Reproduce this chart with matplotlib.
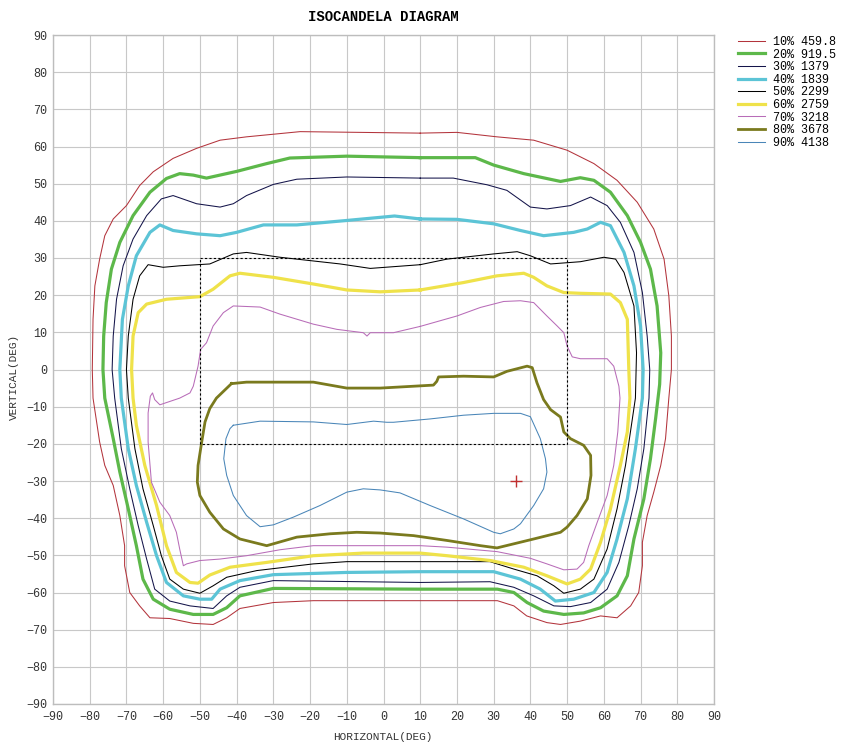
import numpy as np
import matplotlib.pyplot as plt

# isocandela levels (label, colour, width)
labels = ["10% 459.8", "20% 919.5", "30% 1379", "40% 1839", "50% 2299",
          "60% 2759", "70% 3218", "80% 3678", "90% 4138"]
colors = ["#b3343c", "#5db84a", "#14144a", "#5cc4d6", "#000000",
          "#efe24a", "#b86cb8", "#7a7a1e", "#4a86b8"]
widths = [0.75, 2.3, 0.75, 2.3, 0.75, 2.3, 0.75, 2.0, 0.75]

# contour traces (horizontal deg, vertical deg)
iso10 = [(10, 63.6), (-22.7, 64), (-37.3, 62.6), (-44.5, 61.7), (-50.9, 59.5), (-57.3, 56.8),
         (-62.7, 53.2), (-66.4, 49.5), (-70, 44.1), (-73.6, 40.5), (-75.9, 36), (-77.3, 29.7),
         (-78.6, 22.5), (-79.1, 13.5), (-79.3, 0), (-79.1, -7.7), (-77.3, -19.5), (-75.9, -25.8),
         (-73.6, -31.2), (-71.8, -39.3), (-70.5, -47.4), (-70.5, -52.8), (-69.1, -60), (-66.4, -63.6),
         (-63.6, -66.8), (-58.2, -67), (-51.8, -68.3), (-46.4, -68.6), (-42.7, -66.8), (-39.1, -64.3),
         (-30, -62.7), (-19.1, -62.2), (31, -62.2), (35.5, -63.6), (39, -66.3), (44.5, -68.1),
         (48.2, -68.6), (53.6, -67.7), (59.1, -66.3), (63.6, -66.8), (67.3, -63.6), (69.5, -60),
         (70.5, -52.8), (70.5, -46.5), (71.8, -39.3), (73.6, -33), (75.5, -25.8), (76.8, -18.6),
         (77.7, -7.7), (78.4, 0), (78.4, 9), (77.7, 19.8), (76.4, 29.7), (73.6, 37.8), (69.1, 45),
         (63.6, 50.9), (57.3, 55.4), (50, 59), (40.9, 61.7), (30.9, 62.6), (20, 63.8), (10, 63.6)]
iso20 = [(10, 57), (-10, 57.4), (-25.5, 56.9), (-31.8, 55.4), (-40, 53.3), (-48.2, 51.5),
         (-51.8, 52.3), (-55.5, 52.7), (-59.1, 51.4), (-63.6, 47.7), (-68.2, 41.4), (-71.8, 34.2),
         (-74.1, 27), (-75.5, 18), (-76.2, 9), (-76.4, 0), (-75.9, -7.7), (-73.6, -18.6),
         (-71.8, -27.6), (-69.5, -37.5), (-67.3, -47.4), (-65.5, -56.4), (-62.7, -61.8),
         (-58.2, -64.5), (-51.8, -65.9), (-46.4, -65.9), (-42.7, -64.1), (-39.1, -60.9),
         (-30, -58.9), (10, -59.1), (31, -59.1), (35.5, -60), (39.1, -62.7), (43.6, -65),
         (49.1, -65.9), (54.5, -65.5), (59.1, -64.1), (63.6, -60.9), (66.4, -55.5), (68.2, -45.6),
         (70.9, -34.8), (72.7, -24), (74.1, -13.2), (75.2, -4), (75.5, 4.5), (74.5, 17.1),
         (72.7, 27), (70, 34.2), (66.4, 41.4), (61.8, 47.7), (57.3, 50.9), (53.6, 51.6),
         (48.2, 50.6), (38.2, 52.7), (30, 55), (25, 57), (10, 57)]
iso30 = [(10, 51.5), (-10, 51.8), (-23.6, 51.2), (-30, 49.8), (-37.3, 46.8), (-40.9, 44.6),
         (-44.5, 43.7), (-50.9, 44.6), (-57.3, 46.8), (-60.5, 45.9), (-64.5, 41.4), (-68.2, 35.1),
         (-70.9, 27.9), (-72.7, 18.9), (-73.6, 9), (-73.9, 0), (-73.2, -7.7), (-71.4, -21.3),
         (-69.1, -32.1), (-66.8, -42), (-64.5, -51), (-62.3, -59.1), (-58.2, -62.3), (-52.7, -63.6),
         (-46.4, -64.3), (-42.7, -60.9), (-39.1, -58.6), (-30, -56.8), (10, -57.3), (29, -57.1),
         (35.5, -58.6), (40.9, -60.9), (46.4, -63.6), (50.9, -63.8), (56.4, -62.7), (60.9, -59.1),
         (64.1, -51.9), (66.8, -42), (69.1, -32.1), (70.9, -21.3), (72.3, -7.7), (72.5, 0),
         (71.8, 9), (70.5, 20.7), (68.2, 31.5), (64.5, 39.6), (60.9, 44.1), (56.4, 46.4),
         (50.9, 44.1), (44.5, 43.2), (40, 43.7), (33.6, 48.2), (28.2, 49.7), (19, 51.5), (10, 51.5)]
iso40 = [(10, 40.5), (3, 41.3), (-10, 40.1), (-23.6, 38.9), (-32.7, 38.9), (-40, 36.9),
         (-44.5, 36), (-50.9, 36.5), (-57.3, 37.4), (-60.9, 38.9), (-63.6, 36.9), (-67.3, 30.6),
         (-69.5, 22.5), (-71.1, 13.5), (-71.8, 0), (-71.4, -7.7), (-69.5, -21.3), (-67.3, -31.2),
         (-64.5, -41.1), (-61.8, -50.1), (-59.1, -57.3), (-54.5, -60.9), (-50, -61.8),
         (-46.8, -61.8), (-44.5, -59.1), (-39.1, -56.8), (-30, -55.2), (-10, -54.6), (10, -54.4),
         (30, -54.4), (37.3, -56.4), (42.7, -59.1), (46.8, -62.3), (51.8, -61.8), (57.3, -60),
         (60.9, -54.6), (63.6, -45.6), (66.4, -34.8), (68.6, -21.3), (70.5, -7.7), (70.7, 0),
         (70, 11.7), (68.2, 22.5), (65.5, 31.5), (61.8, 38.7), (59.1, 39.6), (55.5, 37.8),
         (51.8, 36.9), (43.6, 36), (37.3, 37.4), (30, 39.2), (20, 40.4), (10, 40.5)]
iso50 = [(10, 28.2), (-3.6, 27.2), (-11.8, 28.4), (-28.2, 30.2), (-37.3, 31.5), (-40.9, 31.1),
         (-47.3, 28.4), (-55.5, 27.9), (-60, 27.5), (-64.1, 28.2), (-66.4, 25.2), (-68.2, 18.9),
         (-69.5, 9), (-70, 0), (-69.5, -7.7), (-67.7, -21.3), (-65.5, -32.1), (-62.7, -42),
         (-60.5, -50.1), (-58.2, -56.4), (-54.5, -59.1), (-50, -60.2), (-46.4, -58.2),
         (-42.7, -55.9), (-34.5, -54.1), (-19.1, -52.3), (-10, -51.7), (29, -51.7), (35.5, -53.7),
         (41.8, -55.5), (46.4, -58.2), (49.1, -60.2), (53.6, -59.1), (57.3, -56.4), (60.9, -48.3),
         (63.6, -37.5), (65.9, -25.8), (68.6, -7.7), (68.9, 4.5), (68.2, 17.1), (65.5, 26.1),
         (63.2, 29.7), (60, 30.2), (53.6, 29), (45.5, 28.4), (40, 30.6), (36.4, 31.7), (30, 31.1),
         (17.3, 29.7), (10, 28.2)]
iso60 = [(10, 21.4), (-0.9, 20.9), (-10, 21.4), (-19.1, 23), (-30, 24.8), (-39.1, 25.9),
         (-41.8, 25.2), (-46.4, 21.6), (-50, 19.6), (-59.1, 18.9), (-64.5, 17.6), (-66.8, 15.3),
         (-68.2, 9), (-68.6, 0), (-68.2, -7.7), (-67.3, -15), (-65, -25.8), (-61.8, -36.6),
         (-59.1, -47.4), (-56.4, -54.6), (-52.7, -57.3), (-50.5, -57.5), (-47.3, -55.3),
         (-41.8, -53.2), (-31.8, -51.9), (-19.1, -50.1), (-5.5, -49.4), (10, -49.4), (17.3, -50.1),
         (29.1, -51.4), (38.2, -53.2), (44.5, -55.5), (50, -57.7), (53.6, -56.4), (56.4, -53.7),
         (59.1, -46.5), (61.8, -37.5), (64.5, -25.8), (66.4, -16.8), (67.1, -7.7), (66.8, 0),
         (66.4, 13.5), (64.5, 18), (61.8, 20.3), (53.6, 20.5), (49.1, 20.7), (44.5, 22.5),
         (40.9, 24.8), (38.2, 25.9), (30.9, 25.2), (21.8, 23.4), (10, 21.4)]
iso70 = [(10, 11.6), (2.7, 9.9), (-3.6, 9.9), (-4.5, 9), (-5.5, 9.9), (-12.7, 10.8),
         (-19.1, 12.2), (-28.2, 14.9), (-33.6, 16.8), (-40.9, 17.1), (-43.6, 15.3), (-46.4, 11.7),
         (-48.2, 7.2), (-49.8, 5.4), (-50.5, 0.9), (-51.8, -4.5), (-52.7, -6.3), (-55.5, -7.7),
         (-60.9, -9.5), (-62.3, -8.1), (-62.9, -6.3), (-63.5, -7.2), (-64.1, -11.7), (-64.1, -19.5),
         (-63.2, -30.3), (-60.9, -35.7), (-58.2, -39.3), (-56.4, -43.8), (-55.5, -48.3),
         (-54.5, -52.8), (-53.6, -52.3), (-50, -51.4), (-44.5, -51), (-37.3, -50.1), (-28.2, -48.5),
         (-19.1, -47.4), (10, -47.4), (17.3, -47.8), (30.9, -49), (40, -50.8), (44.5, -52.3),
         (49.1, -53.9), (52.7, -53.7), (54.5, -51.9), (55.9, -47.4), (58.2, -41.1), (60.9, -33.9),
         (62.7, -25.8), (63.8, -16.8), (64.4, -7.7), (64.1, -4.5), (62.7, 0.9), (60.9, 2.9),
         (53.6, 2.9), (51.4, 3.4), (50, 6.3), (49.1, 9.9), (47.3, 11.7), (44.5, 14.4), (40.9, 18),
         (37.3, 18.5), (32.7, 18.3), (26.4, 16.7), (20, 14.4), (10, 11.6)]
iso80 = [(-41.4, -3.8), (-37.3, -3.4), (-19.1, -3.4), (-10, -5), (-0.9, -5), (8.2, -4.5),
         (13.6, -4.2), (14.5, -3.2), (15, -2), (21.8, -1.8), (30, -2), (33.6, -0.5), (39.1, 0.9),
         (40.5, 0.5), (41.8, -3.6), (43.6, -8.1), (45.5, -10.8), (48.2, -12.8), (49.1, -16.8),
         (50.9, -18.6), (54.5, -20.4), (56.4, -23.1), (56.5, -28.5), (55.5, -34.8), (52.7, -39.3),
         (50, -42.4), (48.2, -43.8), (40.9, -45.6), (35.5, -46.9), (30.9, -48), (26.4, -47.4),
         (17.3, -46), (8.2, -44.7), (-0.9, -44), (-7.3, -43.8), (-14.5, -44.2), (-23.6, -45.1),
         (-30, -46.9), (-31.8, -47.4), (-39.1, -45.6), (-43.6, -42.9), (-47.3, -38.4), (-50, -33.9),
         (-50.7, -30.3), (-50.5, -25.8), (-49.5, -19.5), (-48.6, -14.1), (-47.3, -10.5),
         (-45.5, -7.7), (-41.4, -3.8)]
iso90 = [(-40.9, -15), (-33.6, -13.9), (-19.1, -14.1), (-10, -14.8), (-2.7, -13.9), (0.9, -14.2),
         (2.7, -14.2), (12.7, -13.3), (21.8, -12.3), (30, -11.8), (37.3, -11.8), (40, -12.7),
         (42.7, -18.6), (44.1, -24), (44.5, -27.6), (43.6, -32.1), (40.9, -36.6), (37.3, -41.5),
         (35.5, -42.9), (31.8, -44.2), (30, -43.8), (21.8, -40.2), (12.7, -36.6), (4.5, -33.2),
         (-0.9, -32.4), (-5.5, -32.1), (-10, -33), (-17.3, -36.6), (-24.5, -39.7), (-30, -41.8),
         (-33.6, -42.3), (-37.3, -39.3), (-40.9, -33.9), (-42.7, -28.5), (-43.5, -24),
         (-42.9, -18.6), (-41.8, -15.9), (-40.9, -15)]
contours = [iso10, iso20, iso30, iso40, iso50, iso60, iso70, iso80, iso90]

# field box and max point
box_x = [-50, 50, 50, -50, -50]
box_y = [30, 30, -20, -20, 30]
max_pt = (36, -30)

ticks = list(range(-90, 91, 10))
mono = "Liberation Mono"

fig = plt.figure(figsize=(8.42, 7.44), dpi=100)
ax = fig.add_axes([53/842, 40/744, 661/842, 669/744])

for pts, lab, c, w in zip(contours, labels, colors, widths):
    xs, ys = zip(*pts)
    ax.plot(xs, ys, color=c, lw=w, label=lab, solid_joinstyle="round")

ax.plot(box_x, box_y, color="black", lw=0.8, ls=(0, (2, 2)))
ax.plot(*max_pt, marker="+", color="#c03030", ms=8, mew=1.0)

ax.set_xlim(-90, 90)
ax.set_ylim(-90, 90)
ax.set_xticks(ticks)
ax.set_yticks(ticks)
ax.grid(True, color="#c8c8c8", lw=0.8)
ax.set_axisbelow(True)
ax.tick_params(length=0, labelsize=8.5, labelcolor="#333333", pad=5)
ax.tick_params(axis="y", pad=4)
for lbl in ax.get_xticklabels() + ax.get_yticklabels():
    lbl.set_fontfamily(mono)
for s in ax.spines.values():
    s.set_color("#bdbdbd")
    s.set_linewidth(1.0)

fig.text(383/842, 1 - 17/744, "ISOCANDELA DIAGRAM", ha="center", va="center",
         fontsize=10, fontweight="bold", family=mono)
fig.text(383/842, 1 - 737/744, "HORIZONTAL(DEG)", ha="center", va="center",
         fontsize=8, family=mono, color="#333333")
fig.text(14/842, 1 - 377/744, "VERTICAL(DEG)", ha="center", va="center",
         rotation=90, fontsize=8, family=mono, color="#333333")

ax.legend(loc="upper left", bbox_to_anchor=(738/842, 1 - 36/744),
          bbox_transform=fig.transFigure,
          frameon=False, borderpad=0, borderaxespad=0, labelspacing=0.05,
          handlelength=2.3, handletextpad=0.7,
          prop={"family": mono, "size": 8.5})

plt.savefig("out.png", dpi=100)
